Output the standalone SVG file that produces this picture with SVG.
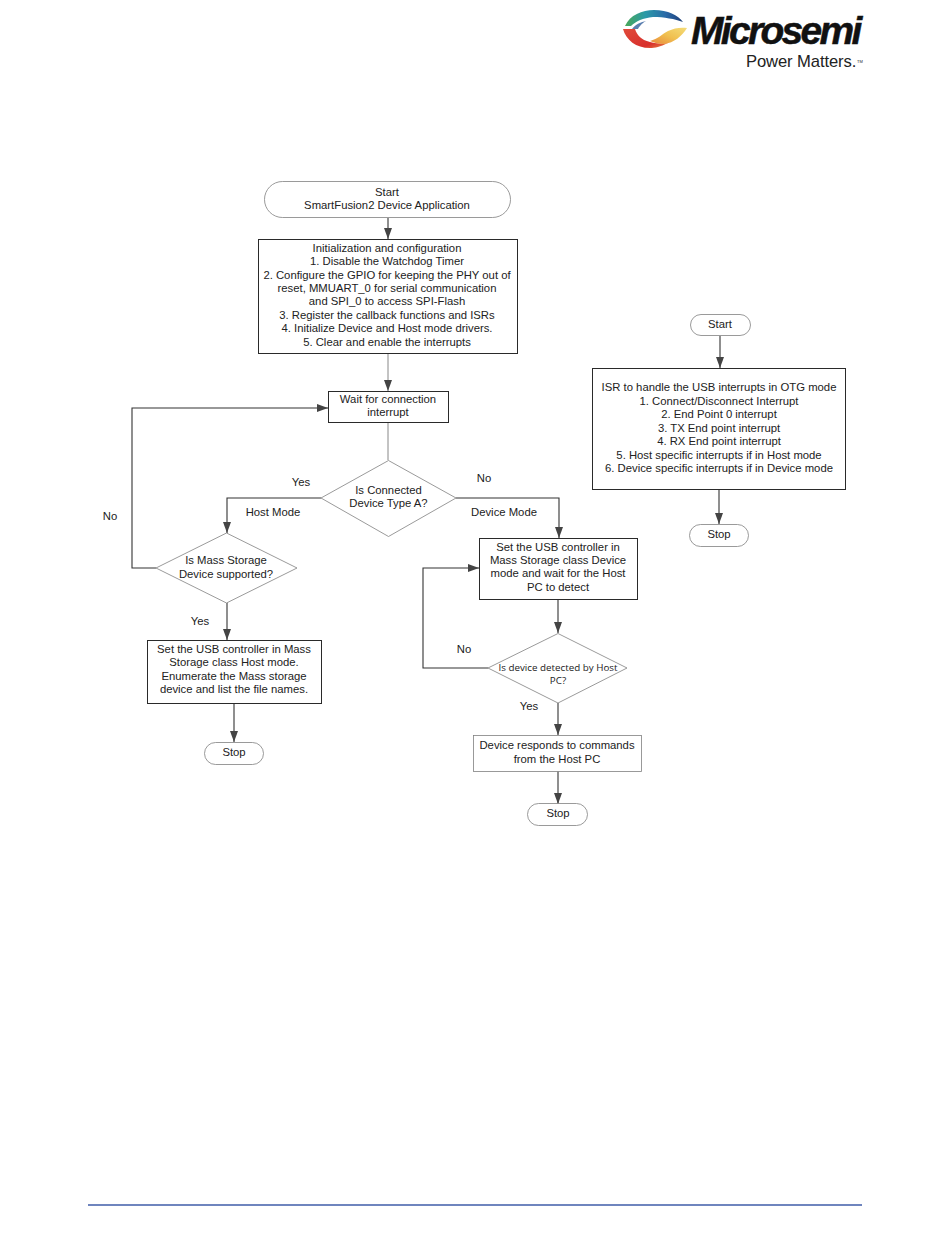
<svg xmlns="http://www.w3.org/2000/svg" width="950" height="1248" viewBox="0 0 950 1248">
<style>
text{font-family:"Liberation Sans",Arial,sans-serif;font-size:11.300px;fill:#222;text-anchor:middle}
.l{text-anchor:start}
.o{font-family:"Open Sans","Noto Sans",sans-serif;font-size:9.800px}
.b{fill:#fff;stroke:#2a2a2a;stroke-width:1}
.g{fill:#fff;stroke:#808080;stroke-width:.8}
.c{fill:none;stroke:#333;stroke-width:1.1}
.lt{fill:none;stroke:#888;stroke-width:1}
</style>
<defs>
<marker id="a" markerUnits="userSpaceOnUse" markerWidth="13" markerHeight="10" refX="11" refY="4" orient="auto"><path d="M0 0L11 4L0 8Z" fill="#444"/></marker>
<linearGradient id="gt" x1="0" x2="1" y1="0" y2="0"><stop offset="0" stop-color="#4aa858"/><stop offset=".35" stop-color="#2a9aa8"/><stop offset=".7" stop-color="#2a6aa8"/><stop offset="1" stop-color="#1f3f78"/></linearGradient>
<linearGradient id="gy" x1="0" x2="1" y1="1" y2="0"><stop offset="0" stop-color="#e8873a"/><stop offset=".5" stop-color="#f0c050"/><stop offset="1" stop-color="#f4dc78"/></linearGradient>
<linearGradient id="gr" x1="0" x2="1" y1="0" y2="1"><stop offset="0" stop-color="#e04a3a"/><stop offset=".7" stop-color="#d8302c"/><stop offset="1" stop-color="#e88a40"/></linearGradient>
</defs>
<rect width="950" height="1248" fill="#fff"/>
<g id="logo">
<path d="M625 26C630 15 642 10 654 10C668 10 678 15 683 22C675 19 664 17 653 17C643 18 636 21 631 26Z" fill="url(#gt)"/>
<path d="M623 29L635 29C637 35 641 40 650 42C654 43 657 44 668 43C660 47 655 48 650 48C636 48 626 40 623 29Z" fill="url(#gr)"/>
<path d="M687 28C682 36 674 43 664 44C658 44 653 42 650 41C658 39 662 34 668 31C674 28 681 27 687 28Z" fill="url(#gy)"/>
<path d="M632 29C636 24 641 22 646 21C641 24 639 27 638 29Z" fill="#5b7fb0"/>
<text class="l" x="691" y="44" font-weight="700" font-style="italic" stroke="#111" stroke-width=".5" style="font-size:39px;fill:#111;letter-spacing:-2.700px">Microsemi</text>
<text class="l" x="746" y="66.500" style="font-size:16.600px;fill:#222;letter-spacing:-.1px">Power Matters.</text>
<text class="l" x="857" y="63" style="font-size:4px;fill:#222">TM</text>
</g>
<g id="connectors">
<path class="c" d="M388 218V239" marker-end="url(#a)"/>
<path class="lt" d="M388 354V391" marker-end="url(#a)"/>
<path class="lt" d="M388 423V460"/>
<path class="c" d="M321 498H227V533" marker-end="url(#a)"/>
<path class="c" d="M456 498H559V538" marker-end="url(#a)"/>
<path class="c" d="M156 568H132V408H328" marker-end="url(#a)"/>
<path class="c" d="M227 603V640" marker-end="url(#a)"/>
<path class="c" d="M234 704V742" marker-end="url(#a)"/>
<path class="c" d="M558 600V633" marker-end="url(#a)"/>
<path class="c" d="M488 668H423V568H479" marker-end="url(#a)"/>
<path class="c" d="M558 703V735" marker-end="url(#a)"/>
<path class="c" d="M558 771V804" marker-end="url(#a)"/>
<path class="c" d="M720 336V368" marker-end="url(#a)"/>
<path class="c" d="M719 490V524" marker-end="url(#a)"/>
</g>
<g id="start-main"><rect class="g" x="264.500" y="181.500" width="246" height="36" rx="18"/><text x="387" y="196">Start</text><text x="387" y="209">SmartFusion2 Device Application</text></g>
<g id="init"><rect class="b" x="258.500" y="239.500" width="259" height="114"/>
<text x="387" y="252">Initialization and configuration</text><text x="387" y="265">1. Disable the Watchdog Timer</text><text x="387" y="279">2. Configure the GPIO for keeping the PHY out of</text><text x="387" y="292">reset, MMUART_0 for serial communication</text><text x="387" y="305">and SPI_0 to access SPI-Flash</text><text x="387" y="319">3. Register the callback functions and ISRs</text><text x="387" y="332">4. Initialize Device and Host mode drivers.</text><text x="387" y="346">5. Clear and enable the interrupts</text></g>
<g id="wait"><rect class="b" x="328.500" y="391.500" width="120" height="31"/><text x="388" y="403">Wait for connection</text><text x="388" y="416">interrupt</text></g>
<g id="device-type"><path class="g" d="M388.500 460.500L456 498L388.500 536.500L321 498Z"/><text x="388.500" y="494">Is Connected</text><text x="388.500" y="507">Device Type A?</text></g>
<g id="mass-storage"><path class="g" d="M226.500 533L297 568L226.500 603L156 568Z"/><text x="226" y="564">Is Mass Storage</text><text x="226" y="578">Device supported?</text></g>
<g id="host-set"><rect class="b" x="147.500" y="640.500" width="174" height="63"/><text x="234" y="653">Set the USB controller in Mass</text><text x="234" y="666">Storage class Host mode.</text><text x="234" y="680">Enumerate the Mass storage</text><text x="234" y="693">device and list the file names.</text></g>
<g id="stop-host"><rect class="g" x="204.500" y="742.500" width="59" height="22" rx="11"/><text x="234" y="756">Stop</text></g>
<g id="device-set"><rect class="b" x="479.500" y="538.500" width="158" height="61"/><text x="558" y="551">Set the USB controller in</text><text x="558" y="564">Mass Storage class Device</text><text x="558" y="577">mode and wait for the Host</text><text x="558" y="591">PC to detect</text></g>
<g id="detected"><path class="g" d="M558 633.500L627 668L558 703L488 668Z"/><text class="o" x="558" y="671">Is device detected by Host</text><text class="o" x="558" y="684">PC?</text></g>
<g id="responds"><rect class="g" x="473.500" y="735.500" width="168" height="36"/><text x="557" y="749">Device responds to commands</text><text x="557" y="763">from the Host PC</text></g>
<g id="stop-device"><rect class="g" x="527.500" y="803.500" width="60" height="22" rx="11"/><text x="558" y="817">Stop</text></g>
<g id="start-isr"><rect class="g" x="690.500" y="314.500" width="60" height="21" rx="10.500"/><text x="720" y="328">Start</text></g>
<g id="isr"><rect class="b" x="592.500" y="368.500" width="253" height="121"/><text x="719" y="391">ISR to handle the USB interrupts in OTG mode</text><text x="719" y="405">1. Connect/Disconnect Interrupt</text><text x="719" y="418">2. End Point 0 interrupt</text><text x="719" y="432">3. TX End point interrupt</text><text x="719" y="445">4. RX End point interrupt</text><text x="719" y="459">5. Host specific interrupts if in Host mode</text><text x="719" y="472">6. Device specific interrupts if in Device mode</text></g>
<g id="stop-isr"><rect class="g" x="689.500" y="524.500" width="59" height="22" rx="11"/><text x="719" y="538">Stop</text></g>
<g id="labels">
<text x="301" y="486">Yes</text><text x="484" y="482">No</text><text x="273" y="516">Host Mode</text><text x="504" y="516">Device Mode</text><text x="110" y="520">No</text><text x="200" y="625">Yes</text><text x="464" y="653">No</text><text x="529" y="710">Yes</text>
</g>
<path id="footer-rule" d="M88 1205H862" stroke="#3f5da8" stroke-width="1.300" fill="none"/>
</svg>
